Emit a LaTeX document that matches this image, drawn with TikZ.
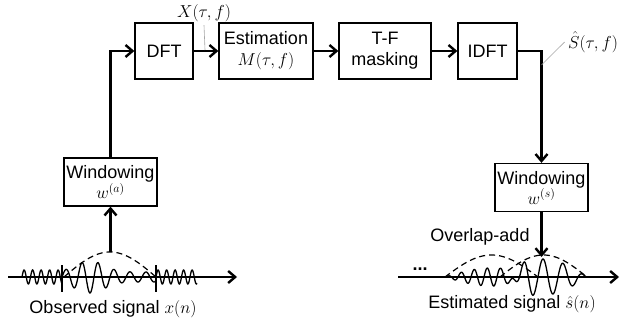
\documentclass[tikz,border=0pt]{standalone}
\usepackage{amsmath}
\usepackage{fontspec}
\setmainfont{Liberation Sans}
\usetikzlibrary{
    arrows.meta,
    positioning,
    calc
}
\tikzset{
  block/.style  = {draw, line width=1.3pt, minimum height=56pt, inner sep=1pt,
                   align=center, font=\fontsize{18}{21}\selectfont},
  wblock/.style = {draw, line width=1.3pt, minimum width=93pt,
                   minimum height=48pt, inner sep=1pt, align=center,
                   font=\fontsize{18}{20}\selectfont},
  arr/.style    = {-{Straight Barb[length=7pt,width=12pt]}, line width=2.4pt},
  lead/.style   = {gray!70, line width=0.6pt},
  wave/.style   = {line width=1.3pt},
  win/.style    = {line width=1.2pt, dash pattern=on 6pt off 4pt},
  lbl/.style    = {font=\fontsize{18}{21}\selectfont}
}

\begin{document}
\begin{tikzpicture}[x=1pt, y=-1pt]
  \useasboundingbox (0,0) rectangle (621,331);

  %% ── Blocks ────────────────────────────────────────────────────
  \node[block, minimum width=58pt] (dft)  at (164,51)   {DFT};
  \node[block, minimum width=94pt] (est)  at (266,51)   {Estimation\\$M(\tau,f)$};
  \node[block, minimum width=92pt] (mask) at (385,51)   {T-F\\masking};
  \node[block, minimum width=59pt] (idft) at (487.5,51) {IDFT};
  \node[wblock] (winA) at (110.5,182)   {Windowing\\$w^{(a)}$};
  \node[wblock] (winS) at (541.5,187.5) {Windowing\\$w^{(s)}$};

  %% ── Labels ────────────────────────────────────────────────────
  \node[font=\fontsize{17}{20}\selectfont] (xlab) at (204,13) {$X(\tau,f)$};
  \node[font=\fontsize{17}{20}\selectfont] (slab) at (593,42) {$\hat{S}(\tau,f)$};
  \node[lbl] (obs)  at (113,309) {Observed signal $x(n)$};
  \node[lbl] (esig) at (512,304) {Estimated signal $\hat{s}(n)$};
  \node[lbl] (ola)  at (480,237) {Overlap-add};
  \node[lbl, font=\fontsize{18}{21}\bfseries] (dots) at (420,269) {...};

  %% ── Free ends ─────────────────────────────────────────────────
  \coordinate (xtap)  at (205,50);
  \coordinate (stap)  at (541.5,65);
  \coordinate (peakA) at (110.5,252);
  \coordinate (peakS) at (541.5,257);
  \coordinate (axA0)  at (8,277);
  \coordinate (axA1)  at (237,277);
  \coordinate (axS0)  at (398,277);
  \coordinate (axS1)  at (619,277);

  %% ── Processing chain ──────────────────────────────────────────
  \draw[arr] (winA.north) |- (dft.west);
  \draw[arr] (dft) -- (est);
  \draw[arr] (est) -- (mask);
  \draw[arr] (mask) -- (idft);
  \draw[arr] (idft.east) -| (winS.north);
  \draw[arr] (peakA) -- (winA.south);
  \draw[arr] (winS.south) -- (peakS);

  % leader lines
  \draw[lead] (xlab.south) -- (xtap);
  \draw[lead] (slab.west) -- (stap);

  %% ── Observed signal ───────────────────────────────────────────
  \draw[arr] (axA0) -- (axA1);
  \draw[line width=2.4pt] (62,265) -- (62,292);
  \draw[line width=2.4pt] (156,265) -- (156,292);
  \draw[wave] plot[domain=22:62, samples=80, smooth]
    (\x, {277 - 7*sin(42.35*(\x-22))});
  \draw[wave] plot[domain=62:156, samples=160, smooth]
    (\x, {277 - (5 + 11*exp(-0.0025*(\x-90)*(\x-90)))*sin(22.5*(\x-78))});
  \draw[wave] plot[domain=156:197, samples=80, smooth]
    (\x, {277 - 7*sin(42.35*(\x-156))});
  \draw[win] plot[domain=64:156, samples=60, smooth]
    (\x, {277 - 25*sin(1.9565*(\x-64))});

  %% ── Estimated signal ──────────────────────────────────────────
  \draw[arr] (axS0) -- (axS1);
  \draw[wave] plot[domain=445:587, samples=300, smooth]
    (\x, {277 - (9*max(0,sin(1.9355*(\x-445)))*sin(27.69*(\x-445))
               + 18*max(0,sin(2.069*(\x-500)))*cos(18*(\x-543)))});
  \draw[win] plot[domain=445:538, samples=60, smooth]
    (\x, {277 - 22*sin(1.9355*(\x-445))});
  \draw[win] plot[domain=500:587, samples=60, smooth]
    (\x, {277 - 22*sin(2.069*(\x-500))});

\end{tikzpicture}
\end{document}
